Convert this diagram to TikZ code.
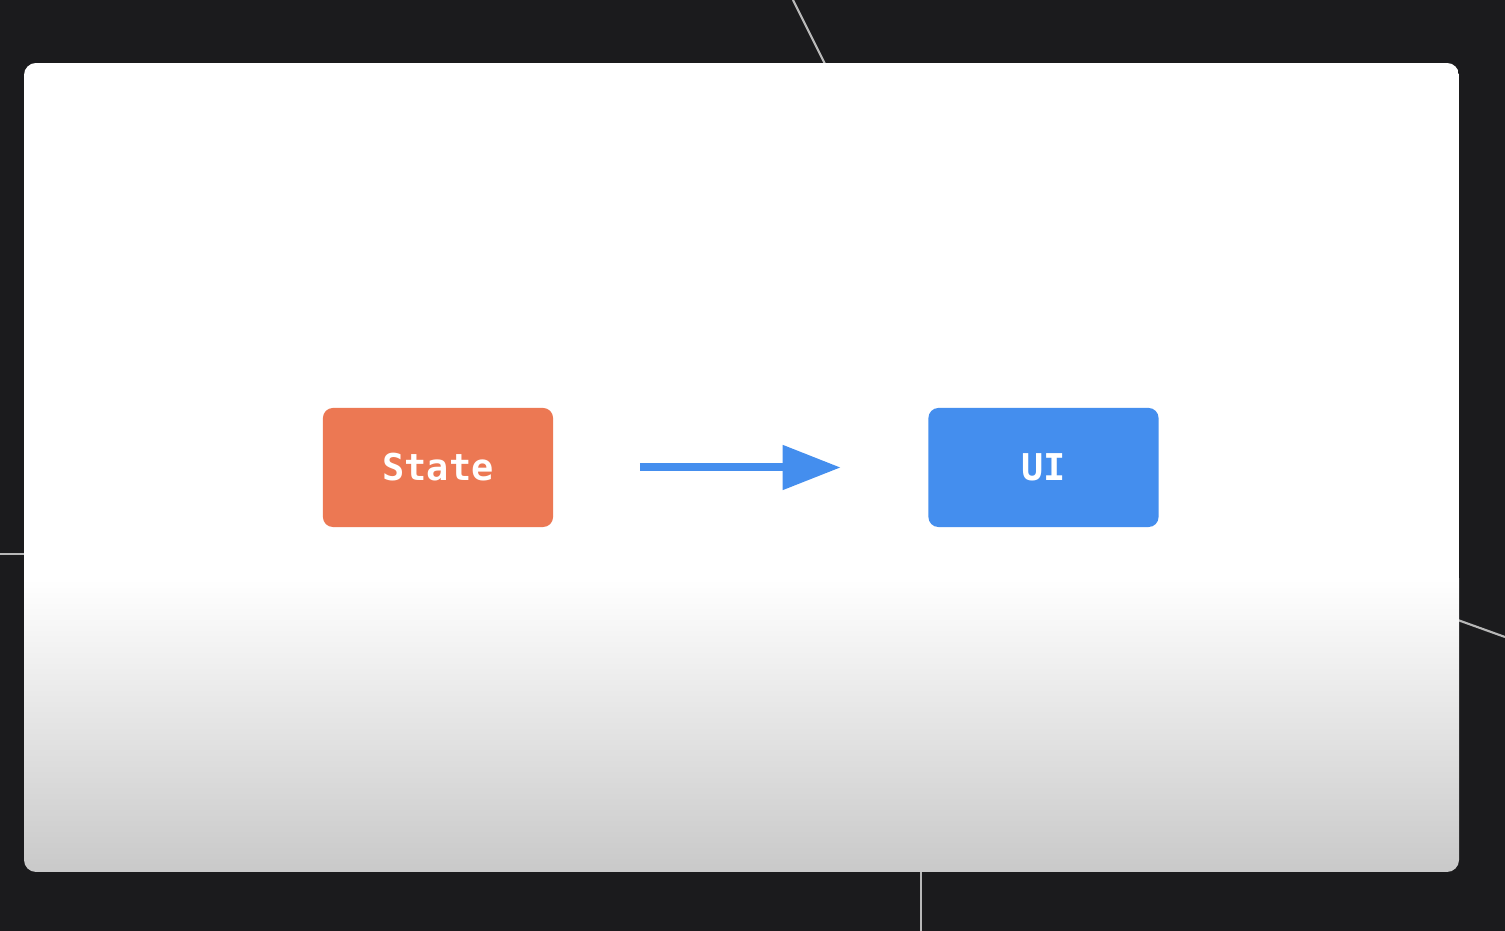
\documentclass[tikz,border=0pt]{standalone}
\usepackage{fontspec}
\setmonofont{DejaVu Sans Mono}
\usetikzlibrary{arrows.meta}
\definecolor{backdrop}{HTML}{1B1B1D}
\definecolor{cardgrey}{HTML}{C9C9C9}
\definecolor{stateorange}{HTML}{EC7853}
\definecolor{uiblue}{HTML}{448EEE}
\definecolor{guide}{HTML}{B8B8B8}
\tikzset{
    block/.style = {rounded corners = 0.1cm, minimum width = 2.3cm, minimum height = 1.19cm,
        inner sep = 0pt, text = white, font = \ttfamily\bfseries\fontsize{10.5}{12}\selectfont},
}
\begin{document}
\begin{tikzpicture}[x = 0.01cm, y = -0.01cm]
            \fill[backdrop] (0, 0) rectangle (1505, 931);
            \useasboundingbox (0, 0) rectangle (1505, 931);

            % thin lines behind the card
            \draw[guide, line width = 0.6pt] (793, 0) -- (826, 66);
            \draw[guide, line width = 0.6pt] (0, 554) -- (30, 554);
            \draw[guide, line width = 0.6pt] (1455, 619) -- (1505, 637);
            \draw[guide, line width = 0.6pt] (921, 866) -- (921, 931);

            % card
            \begin{scope}
                \clip[rounded corners = 0.12cm] (24, 63) rectangle (1459, 872);
                \fill[white] (24, 63) rectangle (1459, 580);
                \shade[top color = white, bottom color = cardgrey] (24, 579) rectangle (1459, 872);
            \end{scope}

            \node (state) [block, fill = stateorange] at (438, 467.5) {State};
            \node (ui)    [block, fill = uiblue]      at (1043.5, 467.5) {UI};

            \draw[uiblue, line width = 0.08cm, shorten < = 0.86cm, shorten > = 0.87cm,
                -{Triangle[length = 0.58cm, width = 0.43cm]}] (state) -- (ui);

        \end{tikzpicture}
\end{document}
